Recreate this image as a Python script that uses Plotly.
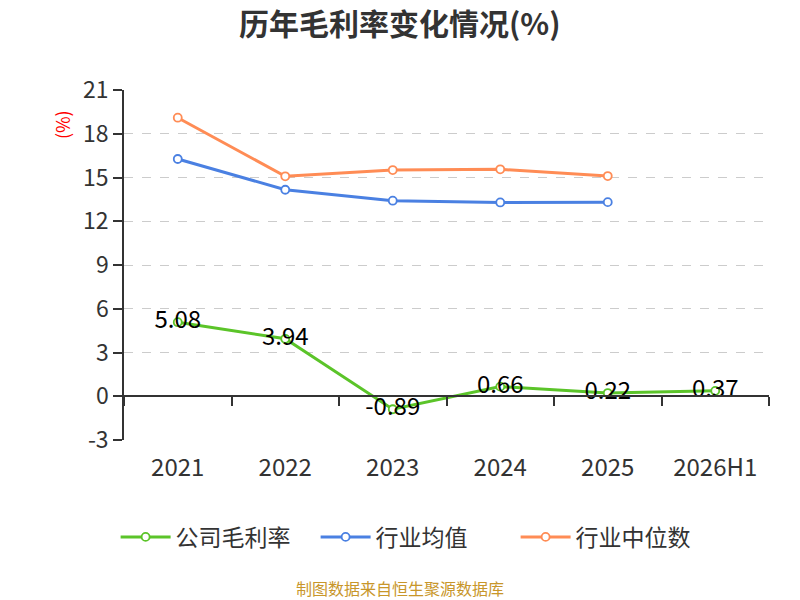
import plotly.graph_objects as go

categories = ["2021", "2022", "2023", "2024", "2025", "2026H1"]
company = [5.08, 3.94, -0.89, 0.66, 0.22, 0.37]
industry_avg = [16.27, 14.16, 13.41, 13.29, 13.31, None]
industry_median = [19.1, 15.08, 15.51, 15.56, 15.10, None]
y_ticks = [-3, 0, 3, 6, 9, 12, 15, 18, 21]
y_tick_labels = ["-3", "0", "3", "6", "9", "12", "15", "18", "21"]

FONT = "Noto Sans CJK SC, Open Sans, sans-serif"
GREEN = "#5bc429"
BLUE = "#4a80e2"
ORANGE = "#ff8c55"

fig = go.Figure()

def add_line(name, vals, color, text=False):
    fig.add_trace(go.Scatter(
        x=categories, y=vals, name=name,
        mode="lines+markers+text" if text else "lines+markers",
        line=dict(color=color, width=3),
        marker=dict(symbol="circle", size=8, color="white",
                    line=dict(color=color, width=1.8)),
        text=[f"{v:.2f}" for v in vals] if text else None,
        textposition="middle center",
        textfont=dict(size=24, color="#000000", family=FONT),
        cliponaxis=False,
    ))

add_line("公司毛利率", company, GREEN, text=True)
add_line("行业均值", industry_avg, BLUE)
add_line("行业中位数", industry_median, ORANGE)

# invisible trace to carry the zero-line axis
fig.add_trace(go.Scatter(x=categories, y=company, xaxis="x2", mode="lines",
                         opacity=0, showlegend=False, hoverinfo="skip"))

fig.update_layout(
    width=800, height=600,
    paper_bgcolor="white", plot_bgcolor="white",
    margin=dict(l=116, r=39, t=82, b=168),
    font=dict(family=FONT, color="#333333"),
    showlegend=True,
    legend=dict(orientation="h", x=-0.013, xanchor="left", y=-0.277, yanchor="middle",
                font=dict(size=23, color="#333333", family=FONT), itemwidth=50,
                entrywidth=135),
    xaxis=dict(type="category", categoryorder="array", categoryarray=categories,
               range=[-0.5, 5.5], showline=False, showgrid=False, zeroline=False,
               ticks="outside", ticklen=6, tickcolor="rgba(0,0,0,0)",
               tickfont=dict(size=24, color="#333333")),
    xaxis2=dict(type="category", categoryorder="array", categoryarray=categories,
                range=[-0.5, 5.5], overlaying="x", anchor="free", position=0.125,
                showline=True, linecolor="#333333", linewidth=1.5,
                ticks="outside", tickson="boundaries", ticklen=9, tickcolor="#333333",
                tickwidth=1.5, showticklabels=False, showgrid=False, zeroline=False),
    yaxis=dict(range=[-3, 21], tickvals=y_ticks, ticktext=y_tick_labels,
               showline=True, linecolor="#333333",
               linewidth=1.5, ticks="outside", ticklen=9, tickcolor="#333333",
               tickwidth=1.5, showgrid=True, gridcolor="#cccccc", griddash="dash",
               gridwidth=1, zeroline=False, tickfont=dict(size=23, color="#333333")),
    annotations=[
        dict(text="<b>历年毛利率变化情况(%)</b>", xref="paper", yref="paper",
             x=0.428, y=1.195, xanchor="center", yanchor="middle", showarrow=False,
             font=dict(size=30, color="#333333", family=FONT)),
        dict(text="(%)", xref="paper", yref="paper", x=-0.096, y=0.9,
             xanchor="center", yanchor="middle", textangle=-90, showarrow=False,
             font=dict(size=18, color="#ff0000", family=FONT)),
        dict(text="制图数据来自恒生聚源数据库", xref="paper", yref="paper",
             x=0.428, y=-0.424, xanchor="center", yanchor="middle", showarrow=False,
             font=dict(size=16, color="#c8962a", family=FONT)),
    ],
)

fig.write_html("out.html")
